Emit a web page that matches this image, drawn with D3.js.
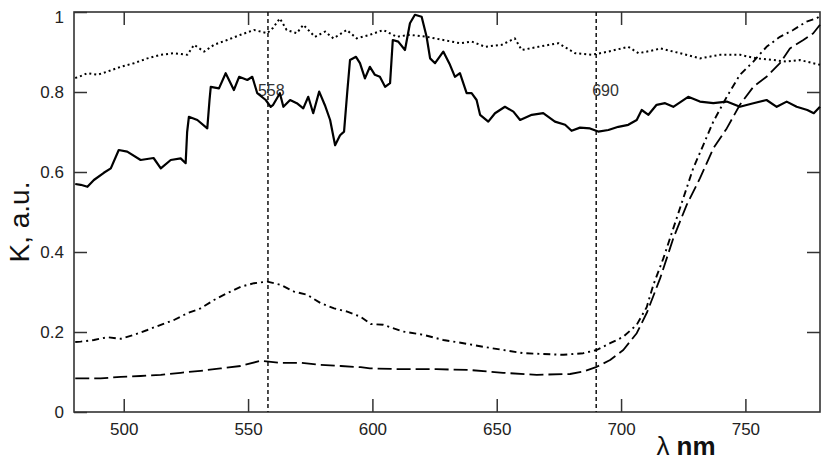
<!DOCTYPE html>
<html>
<head>
<meta charset="utf-8">
<script src="https://cdn.jsdelivr.net/npm/d3@7"></script>
<style>
  body { margin: 0; background: #fff; }
  text { font-family: "Liberation Sans", Arial, sans-serif; }
</style>
</head>
<body>
<div id="chart"></div>
<script>
// spectra, [wavelength nm, K]
let solidCurve = [[480.5,0.57],[482.7,0.568],[485.4,0.563],[488,0.58],[492,0.598],[494.8,0.609],[498,0.655],[501.4,0.651],[506.8,0.63],[512,0.635],[514.9,0.609],[518.9,0.63],[522.9,0.634],[524.9,0.622],[525.5,0.70],[526.2,0.738],[529.6,0.73],[533.6,0.709],[534.5,0.78],[535,0.813],[538.3,0.809],[541,0.847],[544.3,0.805],[546.4,0.838],[549.7,0.83],[551.7,0.838],[553.7,0.797],[557.1,0.78],[559.1,0.763],[560.1,0.768],[562.8,0.797],[564.2,0.763],[566.9,0.78],[569.6,0.772],[572.2,0.759],[574.2,0.788],[576.2,0.747],[578.6,0.801],[580.9,0.767],[583,0.73],[585,0.667],[587,0.692],[588.6,0.701],[589.9,0.801],[591,0.88],[593.4,0.888],[595,0.872],[597,0.834],[599,0.863],[601,0.843],[603,0.838],[605.1,0.813],[607.1,0.822],[608.2,0.93],[610.4,0.926],[613.1,0.905],[615.1,0.972],[617.1,0.993],[619.8,0.988],[621.8,0.938],[623.2,0.884],[625.2,0.872],[628.5,0.901],[631.2,0.868],[633.2,0.838],[635.2,0.847],[637.9,0.797],[639.9,0.797],[641.9,0.78],[643.3,0.743],[646.6,0.726],[649.3,0.747],[653.3,0.763],[656.7,0.751],[659.4,0.73],[664.1,0.743],[668.7,0.747],[673.4,0.726],[677.5,0.718],[680.1,0.703],[683.5,0.711],[687.5,0.709],[690.8,0.701],[694.9,0.705],[698.9,0.713],[702.9,0.718],[706.3,0.73],[708.3,0.755],[711,0.743],[714.3,0.768],[717.7,0.772],[721,0.763],[727,0.788],[731.7,0.776],[737.1,0.772],[742.5,0.776],[747.8,0.763],[753.2,0.772],[758.5,0.78],[762.6,0.763],[766.6,0.776],[770.6,0.763],[774.9,0.755],[777.5,0.747],[780,0.763]];

let dottedCurve = [[480.5,0.835],[482,0.838],[485.4,0.847],[489.4,0.843],[493.4,0.851],[498.8,0.863],[504.1,0.872],[509.5,0.884],[514.9,0.893],[520.2,0.897],[525.6,0.893],[528.3,0.918],[532.3,0.901],[536.3,0.918],[541.6,0.93],[547,0.943],[552.4,0.955],[557.7,0.947],[560,0.96],[562.8,0.984],[565.5,0.955],[569.6,0.947],[572.2,0.968],[576.9,0.938],[581,0.951],[584.3,0.934],[589.7,0.955],[593.7,0.934],[599,0.943],[604.4,0.955],[609.8,0.938],[615.1,0.943],[621.8,0.938],[628.5,0.93],[635.2,0.922],[640,0.926],[645.3,0.913],[652,0.918],[657.3,0.934],[660,0.905],[666.7,0.913],[674.8,0.922],[681.5,0.897],[688.2,0.893],[694.9,0.901],[702.9,0.913],[707,0.897],[713.6,0.905],[715.7,0.909],[723.7,0.897],[731.7,0.884],[739.8,0.893],[747.8,0.893],[754.5,0.884],[761.2,0.88],[766.6,0.876],[771.9,0.88],[777.3,0.872],[780,0.868]];

let dashDotCurve = [[480.5,0.175],[482.7,0.176],[488,0.18],[493.4,0.187],[498.8,0.183],[504.1,0.193],[509.5,0.205],[514.9,0.218],[520.2,0.23],[525.6,0.247],[530.9,0.259],[536.3,0.28],[541.6,0.297],[547,0.313],[552.4,0.322],[557.7,0.326],[563.1,0.318],[568.5,0.301],[573.8,0.293],[579.2,0.272],[584.6,0.259],[589.9,0.251],[595.3,0.238],[599.3,0.22],[604.4,0.218],[612.4,0.201],[620.5,0.193],[628.5,0.18],[636.6,0.172],[644.6,0.163],[652.6,0.155],[660.7,0.147],[668.7,0.145],[676.8,0.143],[684.8,0.147],[690.2,0.155],[695.6,0.172],[700.9,0.188],[706.3,0.218],[710.3,0.262],[713,0.318],[717,0.384],[721,0.459],[725,0.534],[729,0.609],[733.1,0.668],[737.1,0.726],[742.5,0.788],[747.8,0.843],[753.2,0.876],[758.5,0.913],[763.9,0.938],[769.2,0.955],[774.6,0.976],[778.6,0.984],[780,0.99]];

let dashedCurve = [[480.5,0.084],[482.7,0.084],[490.7,0.084],[498.8,0.088],[506.8,0.09],[514.9,0.093],[522.9,0.098],[530.9,0.103],[539,0.109],[547,0.115],[555.1,0.128],[563.1,0.123],[571.2,0.123],[579.2,0.118],[587.3,0.115],[595.3,0.112],[599,0.109],[612.4,0.107],[625.8,0.107],[639.2,0.105],[652.6,0.098],[666.1,0.093],[679.5,0.095],[684.8,0.101],[690.2,0.113],[695.6,0.13],[700.9,0.155],[706.3,0.197],[710.5,0.25],[715.7,0.334],[721,0.434],[726.4,0.518],[731.7,0.584],[737.1,0.659],[742.5,0.709],[747.8,0.768],[753.2,0.813],[758.5,0.838],[763.9,0.872],[767.9,0.909],[773.3,0.93],[777.3,0.947],[780,0.968]];

let markers = [558, 690];
let xTicks = [500, 550, 600, 650, 700, 750];
let yTicks = [0, 0.2, 0.4, 0.6, 0.8, 1];

let width = 837;
let height = 469;
let margin = { top: 12, right: 17, bottom: 57, left: 74 };
let w = width - margin.left - margin.right;
let h = height - margin.top - margin.bottom;

let svg = d3.select('#chart')
          .append("svg")
          .attr("width", width)
          .attr("height", height);

let g = svg.append("g")
          .attr("transform", "translate(" + margin.left + "," + margin.top + ")");

let x = d3.scaleLinear().domain([480, 780]).range([0, w]);
let y = d3.scaleLinear().domain([0, 1]).range([h, 0]);

let axisColor = "#333";

//tick marks point inward, on all four sides
function styleAxis(sel){
  sel.select(".domain").remove();
  sel.selectAll(".tick line").attr("stroke", axisColor).attr("stroke-width", 1.5);
  sel.selectAll(".tick text").attr("fill", "#222").style("font-size", "17px");
}

g.append("g")
  .attr("transform", "translate(0," + h + ")")
  .call(d3.axisBottom(x).tickValues(xTicks).tickSize(-13).tickPadding(11).tickFormat(d3.format("d")))
  .call(styleAxis);

g.append("g")
  .call(d3.axisTop(x).tickValues(xTicks).tickSize(-13).tickFormat(""))
  .call(styleAxis);

let yAxisG = g.append("g")
  .call(d3.axisLeft(y).tickValues(yTicks).tickSize(-13).tickPadding(10).tickFormat(function(d){ return d === 0 || d === 1 ? d : d3.format(".1f")(d); }))
  .call(styleAxis);
// the "1" sits a little below its tick in the original
yAxisG.selectAll(".tick text").filter(function(d){ return d === 1; }).attr("y", 5);

g.append("g")
  .attr("transform", "translate(" + w + ",0)")
  .call(d3.axisRight(y).tickValues(yTicks.slice(1, 5)).tickSize(-13).tickFormat(""))
  .call(styleAxis);

// frame
g.append("rect")
  .attr("width", w)
  .attr("height", h)
  .attr("fill", "none")
  .attr("stroke", axisColor)
  .attr("stroke-width", 1.6);

// vertical marker lines + labels
g.selectAll(".marker")
  .data(markers)
  .enter()
  .append("line")
    .attr("x1", function(d){ return x(d); })
    .attr("x2", function(d){ return x(d); })
    .attr("y1", 0)
    .attr("y2", h)
    .attr("stroke", "#111")
    .attr("stroke-width", 1.5)
    .attr("stroke-dasharray", "4,3");

g.selectAll(".markerLabel")
  .data(markers)
  .enter()
  .append("text")
    .attr("x", function(d, i){ return x(d) + (i === 0 ? -10 : -4); })
    .attr("y", 84)
    .attr("fill", "#333")
    .style("font-size", "16px")
    .text(function(d){ return d; });

let line = d3.line()
  .x(function(d){ return x(d[0]); })
  .y(function(d){ return y(d[1]); });

let series = [
  { data: dottedCurve, dash: "2,3", width: 2 },
  { data: solidCurve, dash: null, width: 2.2 },
  { data: dashDotCurve, dash: "7,4,2,4", width: 1.9 },
  { data: dashedCurve, dash: "14,5", width: 1.8 }
];

g.selectAll(".curve")
  .data(series)
  .enter()
  .append("path")
    .attr("class", "curve")
    .attr("d", function(d){ return line(d.data); })
    .attr("fill", "none")
    .attr("stroke", "#000")
    .attr("stroke-width", function(d){ return d.width; })
    .attr("stroke-dasharray", function(d){ return d.dash; })
    .attr("stroke-linejoin", "round");

// axis titles
svg.append("text")
  .attr("transform", "translate(29,222) rotate(-90)")
  .attr("text-anchor", "middle")
  .attr("fill", "#111")
  .style("font-size", "28px")
  .text("K, a.u.");

let xt = svg.append("text")
  .attr("x", 686)
  .attr("y", 455)
  .attr("text-anchor", "middle")
  .attr("fill", "#111")
  .style("font-size", "26px");
xt.append("tspan").text("λ");
xt.append("tspan").style("font-weight", "bold").text(" nm");
</script>
</body>
</html>
